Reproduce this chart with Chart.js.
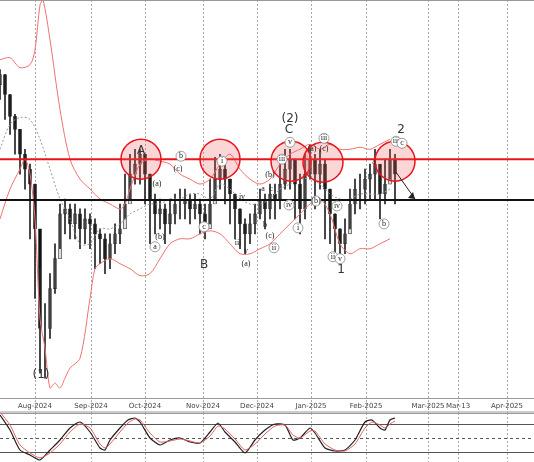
<!DOCTYPE html>
<html>
<head>
<meta charset="utf-8">
<script src="https://cdn.jsdelivr.net/npm/chart.js@4.4.1/dist/chart.umd.min.js"></script>
<style>
  body { margin:0; background:#fff; }
  #wrap { position:relative; width:534px; height:462px; overflow:hidden; }
  #main { position:absolute; left:0; top:0; }
  #osc { position:absolute; left:0; top:413px; }
</style>
</head>
<body>
<div id="wrap">
  <canvas id="main" width="534" height="413"></canvas>
  <canvas id="osc" width="534" height="49"></canvas>
</div>
<script>
// price bars, one every ~5px (x = bar index)
const closes = [325,305,283,270,245,230,215,170,70,70, 110,140,185,190,175,185,170,180,175,165,
  160,140,155,165,170,195,225,235,245,225, 200,185,190,175,185,195,195,200,190,195,
  185,170,195,220,230,220,205,190,175,165, 175,185,200,190,205,200,215,230,240,215,
  190,225,240,225,235,210,185,170,155,165, 195,210,210,220,225,235,205,215,240,225];
const highs = [330,325,305,285,270,250,235,215,130,95, 125,155,195,200,195,195,190,190,185,180,
  170,165,165,175,195,225,245,250,250,245, 225,205,200,195,200,205,210,210,205,205,
  200,195,220,242,245,235,220,205,190,180, 185,195,210,205,215,215,240,250,250,240,
  225,245,255,245,250,240,210,185,170,180, 210,220,225,230,235,250,230,240,250,245];
const lows = [300,280,265,245,225,210,160,100,25,20, 60,105,150,165,160,160,150,155,150,130,
  135,125,130,145,155,180,200,215,215,195, 155,165,170,155,165,175,180,180,175,180,
  165,160,175,200,210,195,175,160,150,145, 155,165,180,170,180,180,190,210,210,180,
  165,180,220,190,210,160,155,140,140,145, 170,185,190,195,200,200,180,195,220,195];

// Bollinger bands
const upperX = [0,2,4,6,7,8,8.6,10,12,14,16,18,20,22,24,25,26,28,30,32,34,36,38,40,42,44,46,48,50,52,54,56,58,60,62,64,66,68,70,72,74,76,78];
const upperY = [340,342,332,335,350,395,400,360,290,240,220,210,200,195,190,195,210,235,240,238,235,225,220,215,220,235,245,230,220,215,220,235,245,250,255,250,255,250,250,252,250,255,260];
const lowerX = [0,2,4,5,6,7,8,9,10,11,12,13,14,16,18,19,20,22,24,26,28,30,32,34,36,38,40,42,44,46,48,50,52,54,56,58,60,62,64,66,68,70,72,74,76,78];
const lowerY = [180,210,230,240,225,180,80,50,10,15,10,20,30,40,100,130,135,140,135,130,123,125,140,155,160,160,165,168,165,155,145,145,150,155,165,175,185,195,200,185,155,145,150,150,155,160];
const midY = [250,275,282,280,260,230,200,180,155,155,170,170,175,185,190,195,195,200,200,205,205,200,215,210,200,195,195,200,210,215,220,220,215,205,200,200,205,205,205,210];

// oscillator
const oscX = [0,2,4,6,8,10,12,14,16,18,20,21,22,24,25.6,27,28,30,32,34,36,38,40,42,43.6,45,47,49,51,53,55,57,58.6,60,62,63,65,67,69,71,73,74.4,76,77,78,79];
const oscBlack = [47,32,12,7,2,12,22,34,40,30,14,12,22,34,42,44,40,24,17,22,24,20,19,30,39,30,20,9,22,32,38,37,22,24,34,29,14,11,12,22,40,42,34,32,42,44];
const oscRed = [50,37,17,9,4,9,18,30,38,34,18,14,18,30,39,43,42,29,20,21,23,21,19,26,36,33,23,12,18,28,36,37,27,24,31,31,18,12,11,18,34,40,37,34,38,41];

const tickPos = [7,18.2,29,40.6,51.4,62.2,73.2,85.6,91.6,101.4];
const tickLabels = ['Aug-2024','Sep-2024','Oct-2024','Nov-2024','Dec-2024','Jan-2025','Feb-2025','Mar-2025','Mar-13','Apr-2025'];

const circles = [[28.2,240],[44,240],[58.2,238],[64.6,237],[79,238]];
const bigLabels = [['A',28.2,248],['B',40.8,134],['C',57.8,269],['(2)',58,281],['(1)',8.2,23],['1',68.2,129],['2',80.2,269]];
const smallLabels = [['(a)',31.4,215],['(b)',32,162],['(c)',35.6,230],['(a)',49.2,135],['a',52.6,210],['c',54.2,210],['(b)',54,224],
  ['b',53,174],['(c)',54,163],['(a)',62.4,250],['(c)',64.8,250],['a',74.8,237],['iv',48.4,202],['iii',47.6,156],['v',49.2,148],['u',46,218]];
const ringLabels = [['a',31,152],['b',36.2,243],['c',40.8,172],['i',44.4,238],['ii',54.8,151],['iii',56.4,240],['iv',57.8,194],['v',58,257],
  ['i',59.6,171],['iii',64.8,261],['(b)',63.2,198],['iv',67.4,193],['ii',66.6,142],['v',68,140],['b',76.8,175],['iii',79.2,258],['c',80.4,256]];

const xs = (arrX, arrY) => arrX.map((x, i) => ({x: x, y: arrY[i]}));
const bars = closes.map((c, i) => i);
const opens = closes.map((c, i) => i === 0 ? c - 10 : closes[i - 1]);

const decor = {
  id: 'decor',
  beforeDatasetsDraw(chart) {
    const {ctx, chartArea, scales} = chart;
    ctx.save();
    ctx.strokeStyle = '#aaa'; ctx.setLineDash([2,2]); ctx.lineWidth = 1;
    tickPos.forEach(t => {
      const x = Math.round(scales.x.getPixelForValue(t)) + 0.5;
      ctx.beginPath(); ctx.moveTo(x, chartArea.top); ctx.lineTo(x, chart.height); ctx.stroke();
    });
    ctx.restore();
  },
  afterDatasetsDraw(chart) {
    const {ctx, chartArea, scales} = chart;
    const px = v => scales.x.getPixelForValue(v), py = v => scales.y.getPixelForValue(v);
    ctx.save();
    // levels
    ctx.strokeStyle = '#e8141a'; ctx.lineWidth = 2;
    ctx.beginPath(); ctx.moveTo(0, py(240)); ctx.lineTo(534, py(240)); ctx.stroke();
    ctx.strokeStyle = '#111';
    ctx.beginPath(); ctx.moveTo(0, py(199)); ctx.lineTo(534, py(199)); ctx.stroke();
    // circles
    circles.forEach(c => {
      ctx.beginPath(); ctx.arc(px(c[0]), py(c[1]), 20, 0, Math.PI * 2);
      ctx.fillStyle = 'rgba(240,90,90,0.25)'; ctx.fill();
      ctx.strokeStyle = '#e8141a'; ctx.lineWidth = 1.5; ctx.stroke();
    });
    // arrow
    ctx.strokeStyle = '#222'; ctx.lineWidth = 1;
    const x1 = px(79.2), y1 = py(227), x2 = px(83), y2 = py(200);
    ctx.beginPath(); ctx.moveTo(x1, y1); ctx.lineTo(x2, y2); ctx.stroke();
    ctx.beginPath(); ctx.moveTo(x2, y2); ctx.lineTo(x2 - 7, y2 - 1); ctx.lineTo(x2 - 2, y2 - 7); ctx.closePath();
    ctx.fillStyle = '#222'; ctx.fill();
    // wave labels
    ctx.textAlign = 'center'; ctx.textBaseline = 'middle';
    ctx.fillStyle = '#333'; ctx.font = '12px "DejaVu Sans"';
    bigLabels.forEach(l => ctx.fillText(l[0], px(l[1]), py(l[2])));
    ctx.font = '8px "Liberation Serif"'; ctx.fillStyle = '#222';
    smallLabels.forEach(l => ctx.fillText(l[0], px(l[1]), py(l[2])));
    ringLabels.forEach(l => {
      ctx.beginPath(); ctx.arc(px(l[1]), py(l[2]), 5, 0, Math.PI * 2);
      ctx.fillStyle = '#fff'; ctx.fill(); ctx.strokeStyle = '#888'; ctx.lineWidth = 0.8; ctx.stroke();
      ctx.fillStyle = '#222'; ctx.fillText(l[0], px(l[1]), py(l[2]));
    });
    // axis strip
    ctx.strokeStyle = '#999'; ctx.lineWidth = 1;
    ctx.beginPath(); ctx.moveTo(0, 0.5); ctx.lineTo(534, 0.5); ctx.stroke();
    ctx.beginPath(); ctx.moveTo(0, chartArea.bottom + 0.5); ctx.lineTo(534, chartArea.bottom + 0.5); ctx.stroke();
    ctx.beginPath(); ctx.moveTo(0, chart.height - 1); ctx.lineTo(534, chart.height - 1); ctx.stroke();
    ctx.fillStyle = '#444'; ctx.font = '7px "DejaVu Sans"';
    tickPos.forEach((t, i) => ctx.fillText(tickLabels[i], px(t), chartArea.bottom + 8));
    ctx.restore();
  }
};

const mainChart = new Chart(document.getElementById('main'), {
  type: 'bar',
  data: {
    labels: bars,
    datasets: [
      { type: 'line', data: xs(upperX, upperY), borderColor: '#f07070', borderWidth: 1, pointRadius: 0, tension: 0.3 },
      { type: 'line', data: xs(lowerX, lowerY), borderColor: '#f07070', borderWidth: 1, pointRadius: 0, tension: 0.3 },
      { type: 'line', data: midY.map((v, i) => ({x: i * 2, y: v})), borderColor: '#999', borderDash: [2,2], borderWidth: 1, pointRadius: 0, tension: 0.3 },
      { data: bars.map(i => ({x: i, y: [lows[i], highs[i]]})), backgroundColor: '#222', barThickness: 1, grouped: false },
      { data: bars.map(i => ({x: i, y: [opens[i], closes[i]]})), backgroundColor: bars.map(i => closes[i] < opens[i] ? '#111' : '#ddd'),
        borderColor: '#222', borderWidth: 0.6, borderSkipped: false, barThickness: 3, grouped: false }
    ]
  },
  options: {
    responsive: false, animation: false,
    layout: { padding: { bottom: 15 } },
    plugins: { legend: { display: false }, tooltip: { enabled: false } },
    scales: {
      x: { type: 'linear', min: 0, max: 106.8, offset: false, display: false },
      y: { min: 0, max: 400, display: false }
    }
  },
  plugins: [decor]
});

const oscDecor = {
  id: 'oscDecor',
  beforeDatasetsDraw(chart) {
    const {ctx, scales} = chart;
    ctx.save();
    ctx.strokeStyle = '#aaa'; ctx.setLineDash([2,2]);
    tickPos.forEach(t => {
      const x = Math.round(scales.x.getPixelForValue(t)) + 0.5;
      ctx.beginPath(); ctx.moveTo(x, 0); ctx.lineTo(x, chart.height); ctx.stroke();
    });
    [[38, []], [24, [3,3]], [10, []]].forEach(g => {
      const y = Math.round(scales.y.getPixelForValue(g[0])) + 0.5;
      ctx.strokeStyle = '#555'; ctx.setLineDash(g[1]);
      ctx.beginPath(); ctx.moveTo(0, y); ctx.lineTo(534, y); ctx.stroke();
    });
    ctx.setLineDash([]); ctx.strokeStyle = '#999';
    ctx.beginPath(); ctx.moveTo(0, 0.5); ctx.lineTo(534, 0.5); ctx.stroke();
    ctx.restore();
  }
};

const oscChart = new Chart(document.getElementById('osc'), {
  type: 'line',
  data: {
    datasets: [
      { data: xs(oscX, oscRed), borderColor: '#e06060', borderWidth: 1, pointRadius: 0, tension: 0.2 },
      { data: xs(oscX, oscBlack), borderColor: '#222', borderWidth: 1.2, pointRadius: 0, tension: 0.2 }
    ]
  },
  options: {
    responsive: false, animation: false,
    layout: { padding: 0 },
    plugins: { legend: { display: false }, tooltip: { enabled: false } },
    scales: {
      x: { type: 'linear', min: 0, max: 106.8, offset: false, display: false },
      y: { min: 0, max: 49, display: false }
    }
  },
  plugins: [oscDecor]
});
</script>
</body>
</html>
